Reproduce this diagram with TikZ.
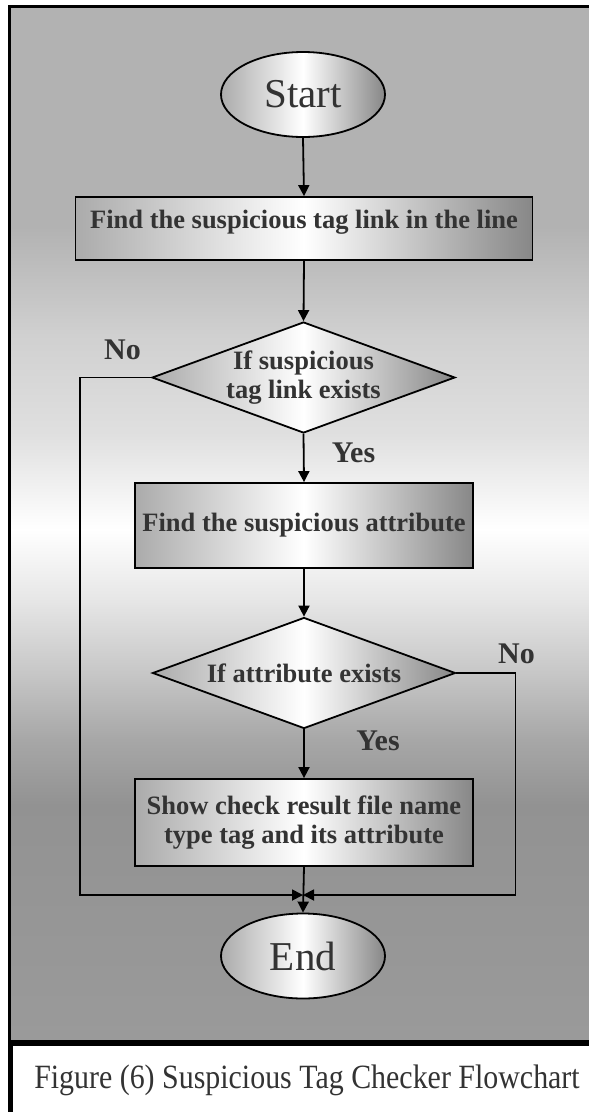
\documentclass[tikz,border=0pt]{standalone}
\usepackage{fontspec}
\setmainfont{Liberation Serif}
\newfontfamily\capfont[FakeStretch=0.88]{Liberation Serif}
\usetikzlibrary{shapes.geometric,arrows.meta}
\definecolor{txt}{HTML}{333333}
\begin{document}
\begin{tikzpicture}[x=1pt,y=-1pt,
  grad/.style={left color=black!33, right color=black!47, middle color=white},
  box/.style={draw=black, line width=1.8pt, rectangle, grad, text=txt,
    font=\bfseries\fontsize{26.5}{28.4}\selectfont, align=center, inner sep=3pt},
  term/.style={draw=black, line width=1.8pt, ellipse, minimum width=164pt,
    minimum height=85pt, inner sep=0pt, grad, text=txt,
    font=\fontsize{41}{49}\selectfont},
  decision/.style={draw=black, line width=1.8pt, diamond, aspect=2.73,
    minimum width=303pt, minimum height=111pt, inner sep=0pt, grad, text=txt,
    font=\bfseries\fontsize{26.5}{29}\selectfont, align=center},
  lbl/.style={font=\bfseries\fontsize{30}{36}\selectfont, text=txt,
    anchor=base, inner sep=0pt},
  flow/.style={draw=black, line width=1.8pt, -{Triangle[length=11pt,width=11pt]}}]
\useasboundingbox (0,0) rectangle (589,1112);
\clip (0,0) rectangle (589,1112);
\fill[white] (0,0) rectangle (589,1112);
% background gradient of the panel
\foreach \ya/\ca/\yb/\cb in {
   6/black!30/228.5/black!30,
   228/black!30/335.5/black!18.4,
   335/black!18.4/435.5/black!12.2,
   435/black!12.2/529.5/white,
   529/white/603.5/black!10.2,
   603/black!10.2/670.5/black!21.6,
   670/black!21.6/737.5/black!34.1,
   737/black!34.1/804.5/black!42.7,
   804/black!42.7/1041/black!39.6}
  \shade[top color=\ca, bottom color=\cb] (9.5,\ya) rectangle (650,\yb);
\draw[line width=2.5pt] (9.5,6.5) rectangle (650,1041);
\draw[line width=5.5pt, fill=white] (10.5,1043.5) rectangle (650,1140);

% nodes
\node[term] (start) at (303,94.5) {Start};
\node[box, minimum width=457pt, minimum height=63pt, text depth=19pt] (r1) at (304,228.5)
  {Find the suspicious tag link in the line};
\node[decision] (d1) at (303.5,377.5) {If suspicious\\tag link exists};
\node[box, minimum width=338.5pt, minimum height=85pt] (r2) at (304,525.5)
  {Find the suspicious attribute};
\node[decision] (d2) at (304,673) {If attribute exists};
\node[box, minimum width=338.5pt, minimum height=87pt] (r3) at (304,822.5)
  {Show check result file name\\type tag and its attribute};
\node[term] (end) at (303,956) {End};

\node[lbl] (no1) at (122.5,359) {No};
\node[lbl] (yes1) at (353.5,462) {Yes};
\node[lbl] (no2) at (516.5,663) {No};
\node[lbl] (yes2) at (378,750) {Yes};

\node[font=\capfont\fontsize{34}{40}\selectfont, text=txt, anchor=base, inner sep=0pt]
  (cap) at (307,1088) {Figure (6) Suspicious Tag Checker Flowchart};

% connectors
\coordinate (m) at (303,895);
\coordinate (lx) at (80,895);
\coordinate (rx) at (515.4,895);
\draw[flow] (start.south) -- (r1.north);
\draw[flow] (r1.south) -- (d1.north);
\draw[flow] (d1.south) -- (r2.north);
\draw[flow] (r2.south) -- (d2.north);
\draw[flow] (d2.south) -- (r3.north);
\draw[flow] (r3.south) -- (end.north);
\draw[flow] (d1.west) -| (lx) -- (m);
\draw[flow] (d2.east) -| (rx) -- (m);
\end{tikzpicture}
\end{document}
